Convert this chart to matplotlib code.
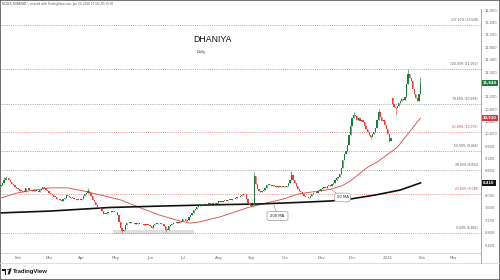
import numpy as np
import pandas as pd
import matplotlib
matplotlib.use("Agg")
import matplotlib.pyplot as plt
from matplotlib.patches import Rectangle, FancyBboxPatch, Polygon, Circle
from matplotlib.lines import Line2D

# ---------------- data ----------------
dates = pd.bdate_range("2025-01-17", "2026-01-30")

close_jan25 = [8350, 8420, 8520, 8580, 8560, 8500, 8440, 8390, 8330, 8290, 8250]
close_feb25 = [8200, 8160, 8140, 8120, 8130, 8260, 8230, 8190, 8170, 8150, 8180, 8140,
               8160, 8130, 8180, 8220, 8270, 8230, 8190, 8140]
close_mar25 = [8080, 8040, 8010, 7970, 7950, 7900, 7880, 7850, 7840, 7880, 7930, 8010,
               7980, 7950, 7930, 7920, 7900, 7880, 7870, 7850, 7860]
close_apr25 = [7900, 8000, 8060, 8100, 8160, 8080, 7980, 7870, 7780, 7700, 7640, 7590,
               7560, 7500, 7420, 7400, 7450, 7480, 7460, 7500, 7480, 7470]
close_may25 = [7460, 7380, 7150, 6950, 6870, 6900, 7050, 7100, 7120, 7140, 7110, 7100,
               7090, 7110, 7080, 7090, 7070, 7080, 7060, 7070, 7050, 7040]
close_jun25 = [7020, 6960, 7040, 7080, 7090, 7100, 7110, 7090, 7070, 7020, 6880, 6900,
               7020, 7050, 7080, 7100, 7110, 7130, 7120, 7150, 7180]
close_jul25 = [7250, 7230, 7180, 7200, 7300, 7380, 7450, 7520, 7580, 7620, 7660, 7700,
               7690, 7710, 7680, 7700, 7730, 7750, 7740, 7720, 7750, 7730, 7760]
close_aug25 = [7840, 7790, 7800, 7830, 7820, 7840, 7860, 7850, 7870, 7890, 7880, 7910,
               7940, 7960, 7980, 8020, 8060, 8040, 7900, 7760, 7680]
close_sep25 = [7650, 7700, 8650, 8380, 8220, 8150, 8120, 8150, 8180, 8250, 8330, 8360,
               8340, 8320, 8330, 8310, 8290, 8300, 8280, 8300, 8290, 8300]
close_oct25 = [8280, 8320, 8400, 8520, 8660, 8520, 8420, 8300, 8220, 8160, 8120, 8040,
               7990, 7960, 7940, 7920, 7980, 8040, 8070, 8100, 8090, 8140, 8160]
close_nov25 = [8200, 8240, 8280, 8260, 8310, 8330, 8320, 8360, 8420, 8500, 8560, 8600,
               8700, 8900, 9150, 9350, 9450, 9650, 9950, 10250]
close_dec25 = [10500, 10620, 10580, 10450, 10500, 10420, 10450, 10380, 10250, 10150, 10050,
               9950, 9900, 9980, 10050, 10200, 10450, 10700, 10550, 10400, 10450, 10300, 10150]
close_jan26 = [10000, 9780, 9850, 10950, 10880, 10820, 10900, 11000, 11050, 11120, 11100,
               11200, 11600, 11950, 11820, 11700, 11450, 11300, 11150, 11050, 11300, 11640]

first_open = 8300
open_override = {163: 7700, 252: 11150}
high_override = {2: 8600, 3: 8620, 56: 8260, 163: 8760, 187: 8790, 227: 10700,
                 243: 10800, 252: 11200, 262: 12090, 270: 11840}
low_override = {78: 6802, 106: 6810, 238: 9820, 250: 9720, 254: 10600}

ma50_idx = [0, 10, 21, 32, 43, 53, 64, 77, 90, 102, 115, 122, 128, 135, 141, 160,
            181, 192, 205, 212, 220, 225, 236, 242, 255, 270]
ma50_val = [7920, 8080, 8180, 8250, 8250, 8150, 8020, 7860, 7600, 7370, 7180, 7110,
            7150, 7240, 7310, 7630, 7880, 8060, 8150, 8200, 8330, 8480, 8920, 9080,
            9560, 10510]
ma200_idx = [0, 32, 70, 102, 135, 167, 192, 212, 225, 241, 257, 270]
ma200_val = [7440, 7500, 7615, 7660, 7700, 7730, 7780, 7825, 7890, 8020, 8180, 8410]

fib_labels = ["127.20%", "100.00%", "78.60%", "61.80%", "50.00%", "38.20%", "23.60%", "0.00%"]
fib_prices = [13528, 12090, 10958, 10070, 9446, 8822, 8048, 6802]
fib_red = [False, False, False, True, False, False, True, False]

support_zone = (72, 124, 6750, 6880)   # idx start, idx end, low, high

month_labels = ["Feb", "Mar", "Apr", "May", "Jun", "Jul", "Aug", "Sep", "Oct", "Nov",
                "Dec", "2026", "Feb", "Mar"]

yticks = list(range(6400, 14001, 400))
hidden_yticks = [8400, 11600]   # covered by the price tags

last_price_text = "11,640"
ma50_text = "10,510"
ma200_text = "8,410"

# ---------------- build ----------------
closes = (close_jan25 + close_feb25 + close_mar25 + close_apr25 + close_may25 +
          close_jun25 + close_jul25 + close_aug25 + close_sep25 + close_oct25 +
          close_nov25 + close_dec25 + close_jan26)
n = min(len(closes), len(dates))
closes = closes[:n]
opens = [first_open] + closes[:-1]
for k, v in open_override.items():
    if k < n:
        opens[k] = v

# month tick positions (first bar of each month) + future months
all_dates = pd.bdate_range("2025-01-17", "2026-03-31")
month_idx = []
prev_m = all_dates[0].month
for i, d in enumerate(all_dates):
    if d.month != prev_m:
        month_idx.append(i)
    prev_m = d.month
month_idx = month_idx[:len(month_labels)]

GREEN = "#1e7b3c"
RED = "#e0413b"

W, H = 500, 280
def fx(px): return px / W
def fy(py): return 1 - py / H
PXB = 1.554
def px2i(px): return (px - 0.9) / PXB

fig = plt.figure(figsize=(5, 2.8), dpi=100)
fig.patch.set_facecolor("white")
ax = fig.add_axes([0, fy(253), 481 / W, (253 - 9) / H])
ax.set_facecolor("white")
ax.set_xlim(px2i(0), px2i(481))
ax.set_ylim(6142, 14039)

# support zone
ax.add_patch(Rectangle((support_zone[0], support_zone[2]), support_zone[1] - support_zone[0],
                       support_zone[3] - support_zone[2], facecolor="#d6d6d6", edgecolor="none",
                       alpha=0.8, zorder=1))

# fib levels
for lab, p, red in zip(fib_labels, fib_prices, fib_red):
    col = "#e57373" if red else "#8a8d96"
    ax.axhline(p, color=col, lw=0.55, ls=(0, (1.2, 1.6)), zorder=1)
    ax.text(px2i(478), p + 95, f"{lab} ({p:,})", fontsize=2.2,
            color=("#d84040" if red else "#555555"), ha="right", va="bottom", zorder=3)

# moving averages
ax.plot(ma50_idx, ma50_val, color="#d9534f", lw=0.65, zorder=2)
ax.plot(ma200_idx, ma200_val, color="#111111", lw=1.2, zorder=2)

# candles
for i in range(n):
    o, c = opens[i], closes[i]
    hi = high_override.get(i, max(o, c))
    lo = low_override.get(i, min(o, c))
    col = GREEN if c >= o else RED
    ax.vlines(i, lo, hi, color=col, lw=0.45, zorder=4)
    h = max(abs(c - o), 25)
    ax.bar(i, h, bottom=min(o, c), width=0.82, color=col, linewidth=0, zorder=5)

# annotation boxes
def callout(cx, cy, w, h, text, tip):
    box = FancyBboxPatch((cx - w / 2, cy - h / 2), w, h,
                         boxstyle="round,pad=0,rounding_size=2", transform=ax.transData,
                         facecolor="white", edgecolor="#9a9a9a", lw=0.5, zorder=6,
                         mutation_aspect=30)
    ax.add_patch(box)
    ax.text(cx, cy, text, fontsize=2.7, ha="center", va="center", color="#222222", zorder=7)
    ax.plot([tip[0][0], tip[1][0]], [tip[0][1], tip[1][1]], color="#9a9a9a", lw=0.5, zorder=6)

callout(px2i(277.5), 7340, 13.5, 300, "200 MA",
        ((px2i(276), 7490), (px2i(274), 7690)))
callout(px2i(342.5), 7940, 10, 280, "50 MA",
        ((px2i(336), 8080), (px2i(332), 8190)))

# axes styling
for s in ["top", "left"]:
    ax.spines[s].set_visible(False)
ax.spines["right"].set_color("#9a9a9a")
ax.spines["right"].set_linewidth(0.6)
ax.spines["bottom"].set_color("#cfcfcf")
ax.spines["bottom"].set_linewidth(0.6)
ax.yaxis.tick_right()
ax.set_yticks(yticks)
ax.set_yticklabels(["" if v in hidden_yticks else f"{v:,}" for v in yticks])
ax.tick_params(axis="y", length=0, pad=2.5, labelsize=2.6, labelcolor="#6a6d78")
ax.set_xticks(month_idx)
ax.set_xticklabels(month_labels)
ax.tick_params(axis="x", length=0, pad=2.0, labelsize=2.8, labelcolor="#6a6d78")

# price tags on right axis
ytr = ax.get_yaxis_transform()
for val, txt, col in [(closes[-1], last_price_text, GREEN),
                      (ma50_val[-1], ma50_text, "#d23c3c"),
                      (ma200_val[-1], ma200_text, "#111111")]:
    ax.text(1.004, val, txt, transform=ytr, fontsize=2.6, color="white", fontweight="bold",
            ha="left", va="center", clip_on=False, zorder=8,
            bbox=dict(boxstyle="square,pad=0.35", facecolor=col, edgecolor="none"))

# title texts
fig.text(fx(193), fy(40), "DHANIYA", fontsize=6.3, color="#111111",
         family="Liberation Sans", ha="left", va="center")
fig.text(fx(197), fy(52), "Daily", fontsize=2.6, color="#333333", ha="left", va="center")
fig.text(fx(2), fy(4.5), "NCDEX_DHANIYA1!, created with TradingView.com, Jan 30, 2026 17:16 UTC+5:30",
         fontsize=2.0, color="#555555", ha="left", va="center")

# footer
fig.add_artist(Line2D([0, 1], [fy(263), fy(263)], transform=fig.transFigure,
                      color="#d8d8d8", lw=0.6))
fig.add_artist(Line2D([fx(481), fx(481)], [fy(253), fy(263)], transform=fig.transFigure,
                      color="#9a9a9a", lw=0.6))
# TradingView logo
fig.add_artist(Polygon([[fx(2), fy(268.5)], [fx(6.3), fy(268.5)], [fx(6.3), fy(274.5)],
                        [fx(4.6), fy(274.5)], [fx(4.6), fy(270.5)], [fx(2), fy(270.5)]],
                       closed=True, transform=fig.transFigure, facecolor="#131722",
                       edgecolor="none"))
fig.add_artist(Circle((fx(8), fy(269.6)), 0.9 / W, transform=fig.transFigure,
                      facecolor="#131722", edgecolor="none"))
fig.add_artist(Polygon([[fx(9.5), fy(268.5)], [fx(11.6), fy(268.5)], [fx(9.6), fy(274.5)],
                        [fx(7.5), fy(274.5)]], closed=True, transform=fig.transFigure,
                       facecolor="#131722", edgecolor="none"))
fig.text(fx(13), fy(271.5), "TradingView", fontsize=4.3, fontweight="bold",
         family="Liberation Sans", color="#131722", ha="left", va="center")

# outer border
fig.add_artist(Rectangle((0, 0), 1, 1, transform=fig.transFigure, fill=False,
                         edgecolor="#5a5a5a", lw=1.2))

fig.savefig("out.png", dpi=100, facecolor="white")
